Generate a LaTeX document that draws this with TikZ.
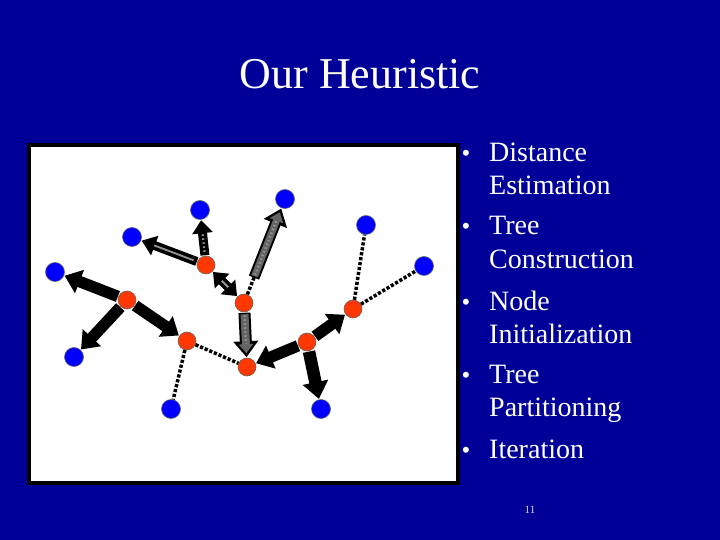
\documentclass[tikz,border=0pt]{standalone}
\usepackage{fontspec}
\setmainfont{Liberation Serif}
\usetikzlibrary{arrows.meta}
\definecolor{slidebg}{RGB}{0,0,153}
\definecolor{nodeblue}{RGB}{0,0,255}
\definecolor{nodered}{RGB}{255,55,0}
\definecolor{shaftgray}{RGB}{100,100,100}
\definecolor{linegray}{RGB}{150,150,150}
\begin{document}
\begin{tikzpicture}[x=1pt,y=-1pt,
  title/.style={text=white, font=\fontsize{44}{50}\selectfont, inner sep=0pt},
  itemtext/.style={text=white, font=\fontsize{28}{33}\selectfont, inner sep=0pt, anchor=base west},
  bulletmark/.style={text=white, font=\fontsize{25}{30}\selectfont, inner sep=0pt, anchor=base},
  pagenum/.style={text=white!85!slidebg, font=\fontsize{11}{13}\selectfont, inner sep=0pt, anchor=base},
  bnode/.style={circle, minimum size=19pt, inner sep=0pt, fill=nodeblue, draw=black!60, line width=0.6pt},
  rnode/.style={circle, minimum size=18pt, inner sep=0pt, fill=nodered, draw=black!60, line width=0.6pt},
  fat/.style={black, line width=11.5pt, -{Triangle[width=24pt,length=16pt]}, shorten <=0.5pt, shorten >=0.5pt},
  fatboth/.style={black, line width=9pt, {Triangle[width=20pt,length=13pt]}-{Triangle[width=20pt,length=13pt]}, shorten <=0.5pt, shorten >=0.5pt},
  graybody/.style={shaftgray, line width=7pt, -{Triangle[width=14pt,length=9pt]}},
  innerline/.style={linegray, line width=1.8pt},
  innerdash/.style={linegray, line width=2.2pt, dash pattern=on 1.5pt off 2.5pt},
  dots/.style={black, line width=3.5pt, dash pattern=on 3.2pt off 1.8pt}
]
\useasboundingbox (0,0) rectangle (720,540);
\fill[slidebg] (0,0) rectangle (720,540);

% title
\node[title, anchor=base] (title) at (360,89) {Our Heuristic};

% white panel
\draw[line width=4pt, fill=white] (29,145) rectangle (458,483);

% nodes
\node[bnode] (b1) at (200,210) {};
\node[bnode] (b2) at (285,199) {};
\node[bnode] (b3) at (132,237) {};
\node[bnode] (b4) at (366,225) {};
\node[bnode] (b5) at (424,266) {};
\node[bnode] (b6) at (55,272) {};
\node[bnode] (b7) at (74,357) {};
\node[bnode] (b8) at (171,409) {};
\node[bnode] (b9) at (321,409) {};
\node[rnode] (r1) at (206,265) {};
\node[rnode] (r2) at (244,303) {};
\node[rnode] (r3) at (127,300) {};
\node[rnode] (r4) at (187,341) {};
\node[rnode] (r5) at (247,367) {};
\node[rnode] (r6) at (307,342) {};
\node[rnode] (r7) at (353,309) {};

% dotted links
\draw[dots] (r4) -- (b8);
\draw[dots] (r4) -- (r5);
\draw[dots] (r7) -- (b4);
\draw[dots] (r7) -- (b5);
\draw[dots, shorten >=60pt] (r2) -- (b2);

% black fat arrows
\draw[fat] (r3) -- (b6);
\draw[fat] (r3) -- (b7);
\draw[fat] (r3) -- (r4);
\draw[fat] (r6) -- (r5);
\draw[fat] (r6) -- (r7);
\draw[fat, line width=12.5pt, -{Triangle[width=25pt,length=17pt]}] (r6) -- (b9);

% black arrows with gray inner lines
\draw[fat, line width=9pt, -{Triangle[width=20pt,length=14pt]}] (r1) -- (b3);
\draw[innerline, shorten <=4pt, shorten >=14pt] (r1) -- (b3);
\draw[fat, line width=9pt, -{Triangle[width=20pt,length=13pt]}] (r1) -- (b1);
\draw[innerdash, shorten <=4pt, shorten >=13pt] (r1) -- (b1);
\draw[fatboth] (r1) -- (r2);
\draw[innerline, shorten <=13pt, shorten >=13pt] (r1) -- (r2);

% gray arrows
\draw[fat, line width=11pt, shorten <=18pt] (r2) -- (b2);
\draw[graybody, shorten <=19.5pt, shorten >=4.5pt] (r2) -- (b2);
\draw[innerdash, shorten <=21pt, shorten >=13pt] (r2) -- (b2);
\draw[fat, line width=12pt] (r2) -- (r5);
\draw[graybody, line width=8pt, shorten <=2pt, shorten >=4.5pt] (r2) -- (r5);
\draw[innerdash, shorten <=3pt, shorten >=14pt] (r2) -- (r5);

% bullet list
\node[bulletmark] (d1) at (466,162) {•};
\node[itemtext] (l1a) at (489,162) {Distance};
\node[itemtext] (l1b) at (489,195) {Estimation};
\node[bulletmark] (d2) at (466,235) {•};
\node[itemtext] (l2a) at (489,235) {Tree};
\node[itemtext] (l2b) at (489,268) {Construction};
\node[bulletmark] (d3) at (466,310) {•};
\node[itemtext] (l3a) at (489,310) {Node};
\node[itemtext] (l3b) at (489,343) {Initialization};
\node[bulletmark] (d4) at (466,383) {•};
\node[itemtext] (l4a) at (489,383) {Tree};
\node[itemtext] (l4b) at (489,416) {Partitioning};
\node[bulletmark] (d5) at (466,458) {•};
\node[itemtext] (l5a) at (489,458) {Iteration};

\node[pagenum] (pg) at (530,513) {11};
\end{tikzpicture}
\end{document}
